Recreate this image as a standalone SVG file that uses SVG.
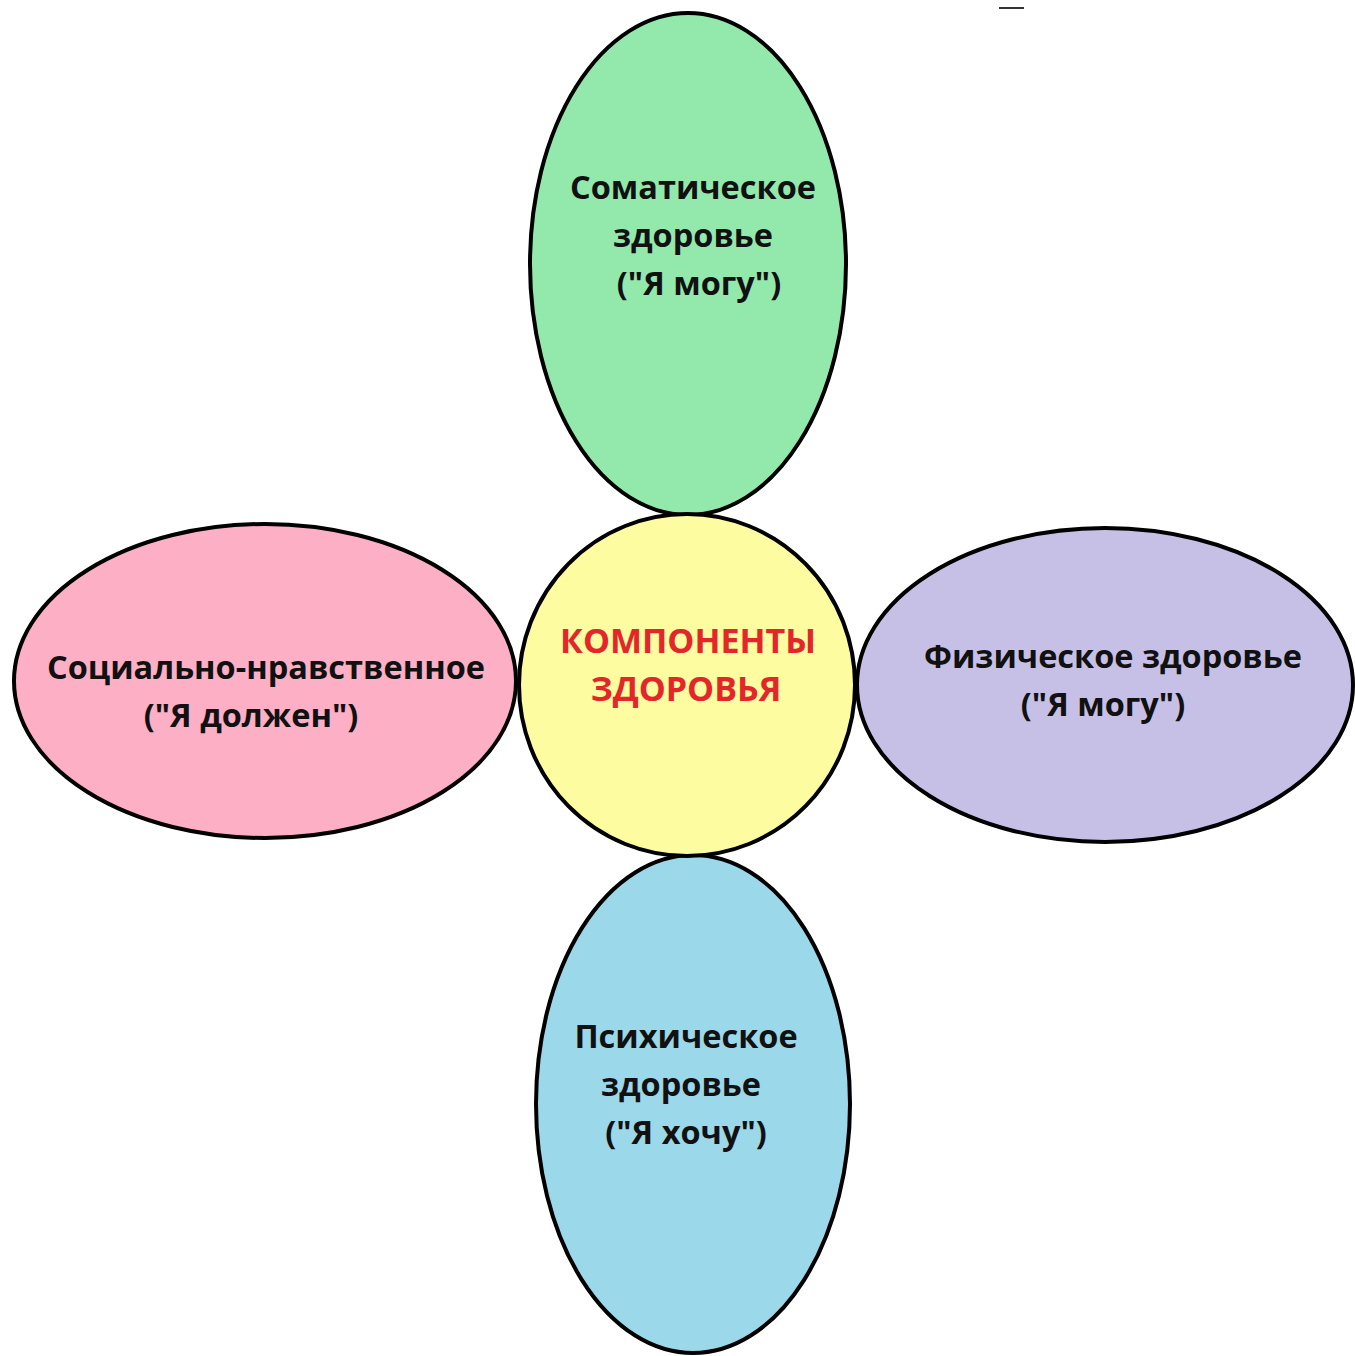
<svg xmlns="http://www.w3.org/2000/svg" width="1355" height="1356" viewBox="0 0 1355 1356">
<style>
.petal{stroke:#000;stroke-width:4}
.t{font-family:"Open Sans","Noto Sans","DejaVu Sans",sans-serif;font-weight:bold;font-size:32.5px;fill:#111;text-anchor:middle}
.c{fill:#e3262a;font-size:34px}
</style>
<rect width="1355" height="1356" fill="#fff"/>
<line x1="999" y1="8" x2="1024" y2="8" stroke="#333" stroke-width="2"/>
<g id="connectors"></g>
<g id="somatic">
<ellipse class="petal" cx="688" cy="264" rx="158" ry="251" fill="#93e9ac"/>
<text class="t" x="693" y="199">Соматическое</text>
<text class="t" x="693" y="247">здоровье</text>
<text class="t" x="699" y="295">("Я могу")</text>
</g>
<g id="psychic">
<ellipse class="petal" cx="693" cy="1104" rx="157" ry="249" fill="#9bd8e9"/>
<text class="t" x="686" y="1048">Психическое</text>
<text class="t" x="681" y="1096">здоровье</text>
<text class="t" x="686" y="1144">("Я хочу")</text>
</g>
<g id="social">
<ellipse class="petal" cx="265" cy="681" rx="251" ry="157" fill="#fdafc6"/>
<text class="t" x="266" y="679">Социально-нравственное</text>
<text class="t" x="251" y="727">("Я должен")</text>
</g>
<g id="physical">
<ellipse class="petal" cx="1105" cy="685" rx="248" ry="157" fill="#c7c0e6"/>
<text class="t" x="1113" y="668">Физическое здоровье</text>
<text class="t" x="1103" y="716">("Я могу")</text>
</g>
<g id="center">
<ellipse class="petal" cx="687" cy="685" rx="168" ry="171" fill="#fdfca0"/>
<text class="t c" x="688" y="653">КОМПОНЕНТЫ</text>
<text class="t c" x="686" y="701">ЗДОРОВЬЯ</text>
</g>
</svg>
